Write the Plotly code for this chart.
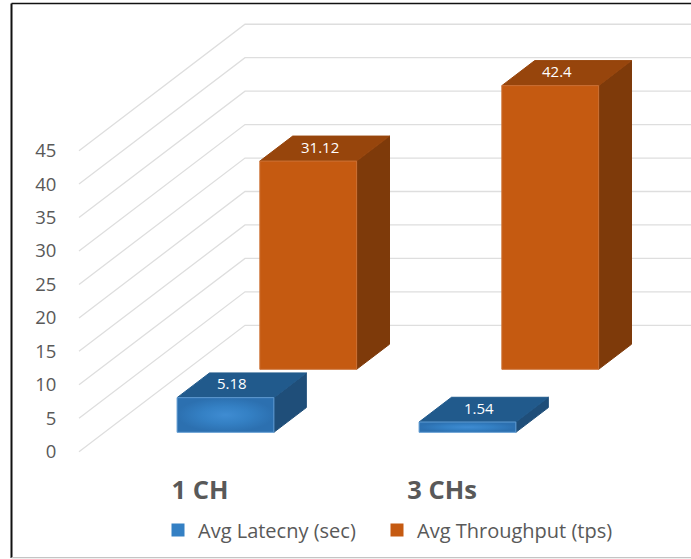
import plotly.graph_objects as go

# ---- data ----
categories = ["1 CH", "3 CHs"]
series_names = ["Avg Latecny (sec)", "Avg Throughput (tps)"]
latency_values = [5.18, 1.54]
throughput_values = [31.12, 42.4]
value_ticks = [0, 5, 10, 15, 20, 25, 30, 35, 40, 45]

# ---- oblique 3-D projection (category units / value units) ----
W, H = 691, 559
CAT_PX = 242.0          # pixels per category
VAL_PX = 6.69           # pixels per value unit
ORIGIN_X = 200.0        # pixel of category 0 on the front plane
ORIGIN_Y = 451.7        # pixel of value 0 on the front plane
DEPTH_X = 166.0 / CAT_PX    # wall shift, in category units
DEPTH_Y = 126.4 / VAL_PX    # wall shift, in value units
BAR_HALF = 0.2          # half a bar's width, in category units
SERIES_DEPTH = [(0.1535, 0.349), (0.652, 0.85)]
FONT = "Open Sans"


def project(cat, val, depth):
    return cat + DEPTH_X * depth, val + DEPTH_Y * depth


def face(points):
    xy = [project(*p) for p in points]
    xy.append(xy[0])
    return [p[0] for p in xy], [p[1] for p in xy]


fig = go.Figure()

# gridlines: side wall then back wall
for v in value_ticks:
    xs, ys = zip(*[project(-0.5, v, 0), project(-0.5, v, 1), project(1.5, v, 1)])
    fig.add_trace(go.Scatter(x=xs, y=ys, mode="lines", showlegend=False, hoverinfo="skip",
                             line=dict(color="#dedede", width=1.3)))

BLUE = dict(front="#2e75b6", top="#215a8c", side="#1f4e79", edge="#5f9bd2")
ORANGE = dict(front="#c55a11", top="#97450c", side="#7e3a0a", edge="#cc7236")


def add_bar(cat, val, depths, col, gradient=None):
    d0, d1 = depths
    l, r = cat - BAR_HALF, cat + BAR_HALF
    front = [(l, 0, d0), (r, 0, d0), (r, val, d0), (l, val, d0)]
    top = [(l, val, d0), (r, val, d0), (r, val, d1), (l, val, d1)]
    side = [(r, 0, d0), (r, 0, d1), (r, val, d1), (r, val, d0)]
    for pts, key in ((side, "side"), (top, "top"), (front, "front")):
        x, y = face(pts)
        kw = dict(fillcolor=col[key])
        if key == "front" and gradient:
            kw = dict(fillgradient=gradient)
        fig.add_trace(go.Scatter(x=x, y=y, mode="lines", fill="toself", showlegend=False,
                                 hoverinfo="skip",
                                 line=dict(color=col["edge"] if key == "front" else col[key], width=1),
                                 **kw))


blue_gradient = dict(type="radial",
                     colorscale=[[0, "#3f8cd2"], [0.5, "#3480c4"], [1, "#2c70b0"]])

# back row first, then the front row
for i in range(len(categories)):
    add_bar(i, throughput_values[i], SERIES_DEPTH[1], ORANGE)
for i in range(len(categories)):
    add_bar(i, latency_values[i], SERIES_DEPTH[0], BLUE, blue_gradient)

# legend entries (one legend box each, so each can be placed on its own)
for name, col, legend_id in zip(series_names, (BLUE, ORANGE), ("legend", "legend2")):
    fig.add_trace(go.Scatter(x=[None], y=[None], mode="markers", name=name, legend=legend_id, showlegend=True,
                             marker=dict(symbol="square", size=13, color=col["front"] if col is ORANGE else "#3480c4")))

# data labels on the top faces
label_nudge_px = [[-10, -5], [-5, -10]]
for s, (values, depths) in enumerate(zip((latency_values, throughput_values), SERIES_DEPTH)):
    for i, v in enumerate(values):
        x, y = project(i, v, sum(depths) / 2)
        fig.add_annotation(x=x, y=y, text=str(v), showarrow=False, xshift=label_nudge_px[s][i], yshift=2,
                           font=dict(family=FONT, size=15, color="#ffffff"))

legend_style = dict(orientation="h", xanchor="left", y=(H - 530) / H, yanchor="middle",
                    bgcolor="rgba(0,0,0,0)", font=dict(family=FONT, size=20, color="#595959"))

fig.update_layout(
    width=W, height=H, margin=dict(l=0, r=0, t=0, b=0, autoexpand=False),
    paper_bgcolor="white", plot_bgcolor="white",
    font=dict(family=FONT, color="#595959"),
    xaxis=dict(range=[-ORIGIN_X / CAT_PX, (W - ORIGIN_X) / CAT_PX], domain=[0, 1],
               anchor="free", position=(H - ORIGIN_Y) / H,
               tickmode="array", tickvals=[0, 1], ticktext=categories,
               showgrid=False, zeroline=False, showline=False,
               ticks="outside", ticklen=16, tickcolor="rgba(0,0,0,0)",
               tickfont=dict(family=FONT, size=25.5, weight="bold", color="#595959")),
    yaxis=dict(range=[(ORIGIN_Y - H) / VAL_PX, ORIGIN_Y / VAL_PX], domain=[0, 1],
               anchor="free", position=79 / W,
               tickmode="array", tickvals=value_ticks,
               showgrid=False, zeroline=False, showline=False,
               ticks="outside", ticklen=19, tickcolor="rgba(0,0,0,0)",
               tickfont=dict(family=FONT, size=18.5, color="#595959")),
    legend=dict(x=158 / W, **legend_style),
    legend2=dict(x=377 / W, **legend_style),
    shapes=[
        dict(type="line", xref="paper", yref="paper", x0=11.5 / W, x1=11.5 / W, y0=(H - 3.5) / H, y1=(H - 558) / H,
             line=dict(color="#111111", width=2)),
        dict(type="line", xref="paper", yref="paper", x0=11.5 / W, x1=1, y0=(H - 3.5) / H, y1=(H - 3.5) / H,
             line=dict(color="#111111", width=1.5)),
        dict(type="line", xref="paper", yref="paper", x0=11.5 / W, x1=1, y0=(H - 557.7) / H, y1=(H - 557.7) / H,
             line=dict(color="#c4c4c4", width=1.2)),
    ],
)

fig.write_html("out.html", config=dict(displayModeBar=False),
               post_script="document.body.style.margin='0';document.body.style.overflow='hidden';")
